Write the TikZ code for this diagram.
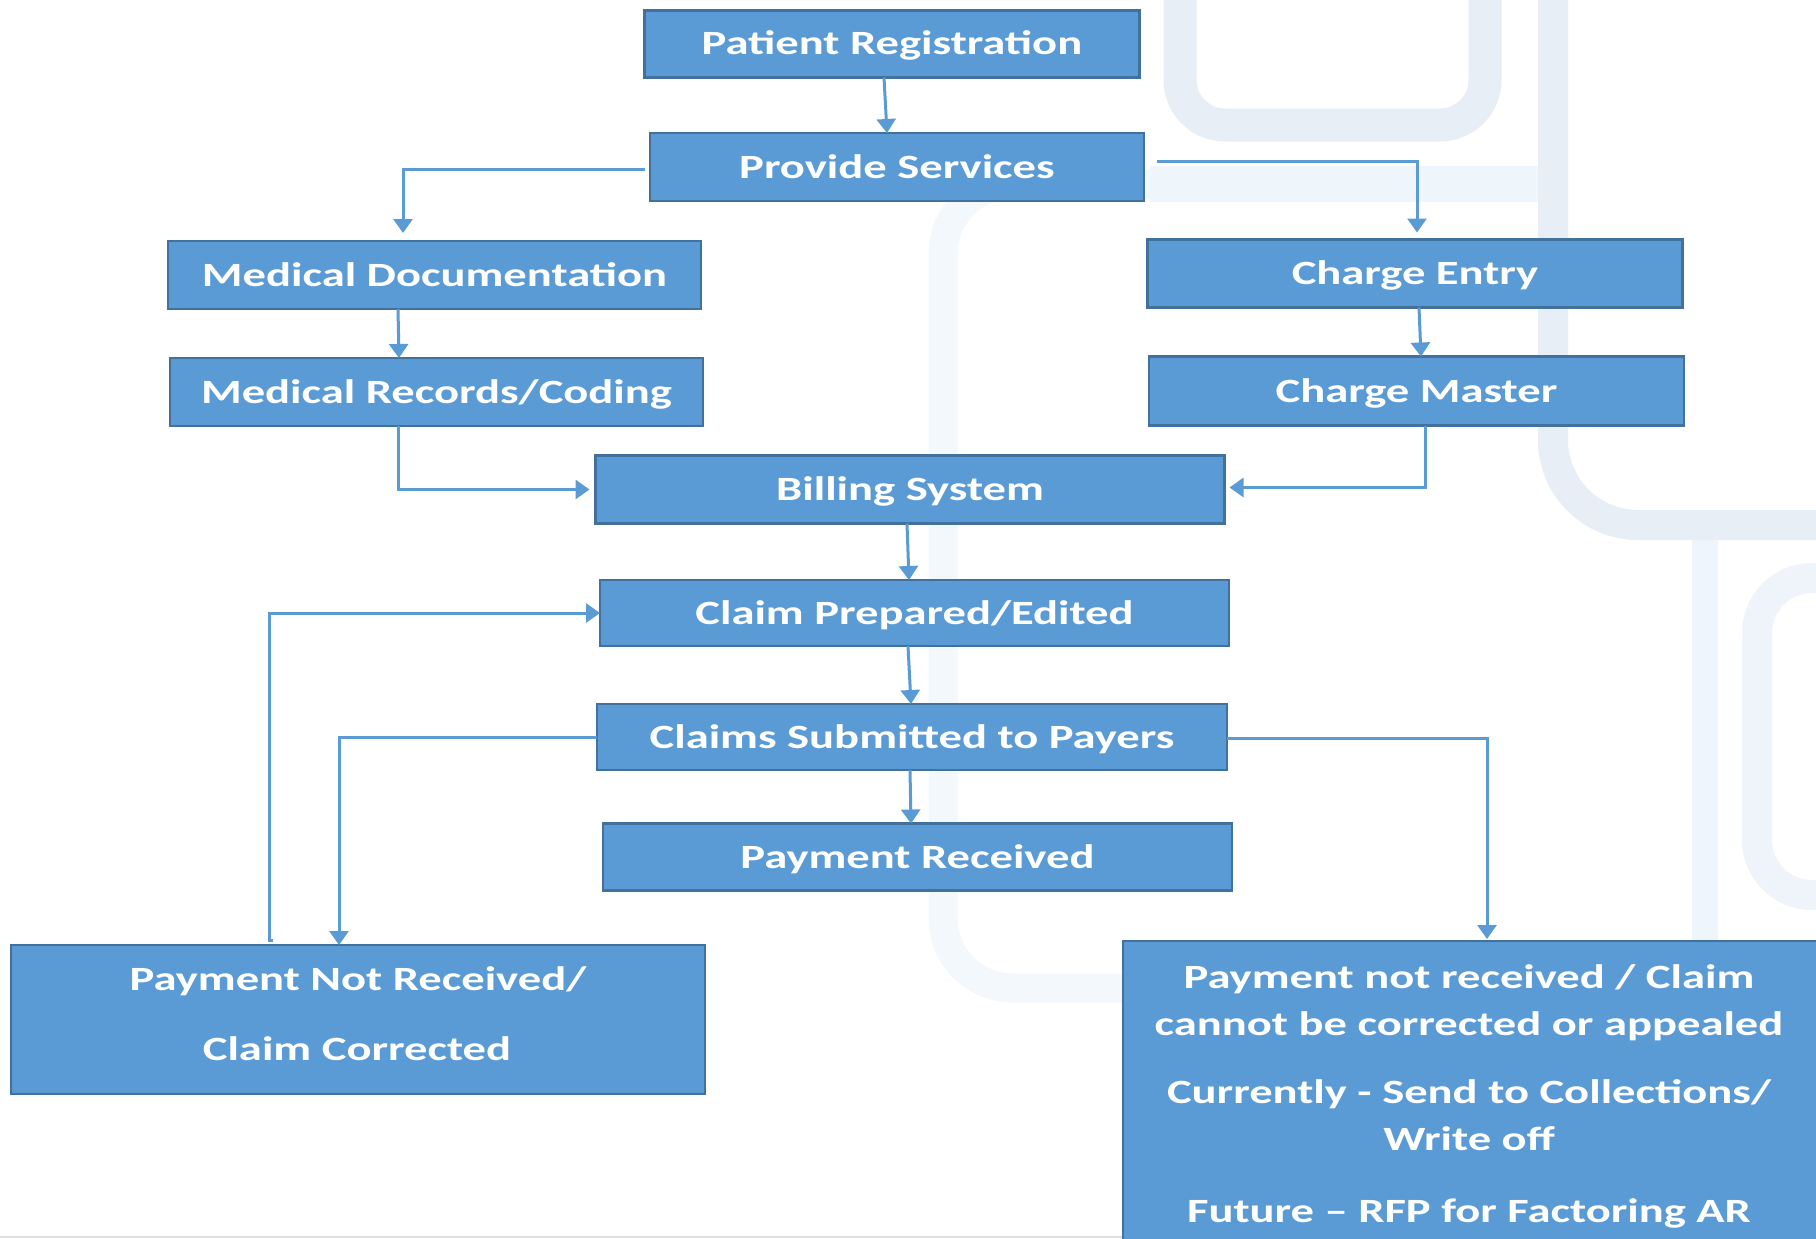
\documentclass[tikz,border=0pt]{standalone}
\usepackage{fontspec}
\setmainfont{Carlito}[FakeStretch=1.37]
\usetikzlibrary{arrows.meta,calc}
\definecolor{boxfill}{HTML}{5B9BD5}
\definecolor{boxline}{HTML}{41719C}
\definecolor{connc}{HTML}{5B9BD5}
\definecolor{wmgray}{HTML}{E7EEF5}
\definecolor{wmblue}{HTML}{EEF6FC}
\definecolor{wmfaint}{HTML}{F3F8FC}
\definecolor{wmrect}{HTML}{EEF4F9}
\begin{document}
\begin{tikzpicture}[x=1pt,y=-1pt,
  box/.style={draw=boxline, line width=2.5pt, fill=boxfill, text=white,
    font=\fontsize{34}{41}\selectfont\bfseries, inner sep=0pt, outer sep=0pt,
    text height=26pt, text depth=4pt},
  lbl/.style={text=white, font=\fontsize{34}{41}\selectfont\bfseries,
    inner sep=0pt, text height=26pt, text depth=4pt},
  connector/.style={draw=connc, line width=3pt, -{Triangle[width=19pt,length=14pt]}},
  wm/.style={line width=30pt, line cap=butt}]
\useasboundingbox (0,0) rectangle (1816,1239);
\clip (0,0) rectangle (1816,1239);
\fill[white] (0,0) rectangle (1816,1239);
% watermark background
\draw[wm, wmfaint, line width=29pt, rounded corners=70pt] (1553,184) -- (943,184) -- (943,988) -- (1300,988);
\draw[wm, wmblue, line width=36pt] (1150,184) -- (1553,184);
\draw[wm, wmblue, line width=26pt] (1705,540) -- (1705,950);
\draw[wm, wmrect, rounded corners=55pt] (1900,578) -- (1757,578) -- (1757,895) -- (1900,895);
\draw[wm, wmgray, line width=33pt, rounded corners=45pt] (1180,-60) -- (1180,125) -- (1485,125) -- (1485,-60);
\draw[wm, wmgray, rounded corners=85pt] (1553,-60) -- (1553,525) -- (1900,525);
\draw[gray!25, line width=2pt] (0,1237) -- (1122,1237);
% boxes
\node[box, minimum width=495pt, minimum height=67pt] (pr) at (892,44) {Patient Registration};
\node[box, minimum width=494pt, minimum height=68pt] (ps) at (897,167) {Provide Services};
\node[box, minimum width=533pt, minimum height=68pt] (md) at (434.5,275) {Medical Documentation};
\node[box, minimum width=535pt, minimum height=68pt] (ce) at (1415,273.5) {Charge Entry};
\node[box, minimum width=533pt, minimum height=68pt] (mrc) at (436.5,392) {Medical Records/Coding};
\node[box, minimum width=535pt, minimum height=69pt] (cm) at (1416.5,391) {Charge Master};
\node[box, minimum width=629pt, minimum height=68pt] (bs) at (910,489.5) {Billing System};
\node[box, minimum width=629pt, minimum height=66pt] (cpe) at (914.5,613) {Claim Prepared/Edited};
\node[box, minimum width=630pt, minimum height=66pt] (csp) at (912,737) {Claims Submitted to Payers};
\node[box, minimum width=629pt, minimum height=67pt] (prc) at (917.5,857) {Payment Received};
\node[box, minimum width=694pt, minimum height=149pt] (pnr) at (358,1019.5) {};
\node[box, minimum width=694pt, minimum height=320pt] (pnc) at (1470,1101) {};
% multi-line texts
\node[lbl] (pnr1) at (358,979) {Payment Not Received/};
\node[lbl] (pnr2) at (357,1049) {Claim Corrected};
\node[lbl] (pnc1) at (1469,977) {Payment not received / Claim};
\node[lbl] (pnc2) at (1469,1024) {cannot be corrected or appealed};
\node[lbl] (pnc3) at (1469,1092.5) {Currently - Send to Collections/};
\node[lbl] (pnc4) at (1469,1139) {Write off};
\node[lbl] (pnc5) at (1469,1211) {Future – RFP for Factoring AR};
% connectors
\draw[connector] (pr.south -| 884,0) -- (ps.north -| 887,0);
\draw[connector] ($(ps.west)+(-5,2)$) -| ($(md.north -| 403,0)+(0,-8)$);
\draw[connector] ($(ps.east)+(13,-6)$) -| ($(ce.north -| 1417,0)+(0,-7)$);
\draw[connector] (md.south -| 398,0) -- (mrc.north -| 399,0);
\draw[connector] (ce.south -| 1419,0) -- (cm.north -| 1421,0);
\draw[connector] (mrc.south -| 398,0) |- ($(bs.west)+(-6,0)$);
\draw[connector] (cm.south -| 1425,0) |- ($(bs.east)+(5,-2)$);
\draw[connector] (bs.south -| 907,0) -- (cpe.north -| 909,0);
\draw[connector] (cpe.south -| 908,0) -- (csp.north -| 911,0);
\draw[connector] (csp.south -| 910,0) -- (prc.north -| 911,0);
\draw[connector] ($(csp.east)+(0,1.5)$) -| ($(pnc.north -| 1487,0)+(0,-2)$);
\draw[connector] (csp.west) -| (pnr.north -| 339,0);
\draw[connector] ($(pnr.north -| 273,0)+(0,-5)$) -- ($(pnr.north -| 269,0)+(0,-5)$) |- (cpe.west);
\end{tikzpicture}
\end{document}
